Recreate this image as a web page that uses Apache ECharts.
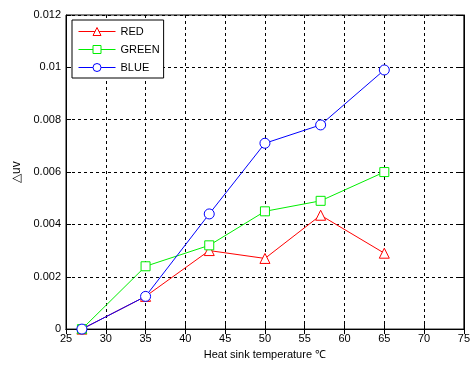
<!DOCTYPE html>
<html>
<head>
<meta charset="utf-8">
<script src="https://cdn.jsdelivr.net/npm/echarts@6/dist/echarts.min.js"></script>
<style>
  html, body { margin: 0; padding: 0; background: #fff; }
  #chart { width: 473px; height: 365px; }
</style>
</head>
<body>
<div id="chart"></div>
<script>
// heat sink temperature (°C)
const temps = [27, 35, 43, 50, 57, 65]
// delta uv per colour
const red = [0, 0.00125, 0.0030, 0.0027, 0.00435, 0.0029]
const green = [0, 0.0024, 0.0032, 0.0045, 0.0049, 0.0060]
const blue = [0, 0.00125, 0.0044, 0.0071, 0.0078, 0.0099]

const font = 'Liberation Sans, Arial, sans-serif'

function pairs (ys) {
  return temps.map((t, i) => [t, ys[i]])
}

function mkSeries (name, color, symbol, ys) {
  return {
    name: name,
    type: 'line',
    data: pairs(ys),
    symbol: symbol,
    symbolSize: symbol === 'rect' ? 9 : 10,
    color: color,
    lineStyle: { color: color, width: 1 },
    itemStyle: { color: '#fff', borderColor: color, borderWidth: 1 },
    emphasis: { disabled: true },
    animation: false
  }
}

const chart = echarts.init(document.getElementById('chart'))

const tickStyle = { inside: true, length: 5, lineStyle: { color: '#000' } }

chart.setOption({
  backgroundColor: '#fff',
  textStyle: { fontFamily: font },
  grid: {
    left: 66, right: 7, top: 15, bottom: 34,
    show: true, borderColor: '#000', borderWidth: 1
  },
  legend: {
    orient: 'vertical',
    left: 72,
    top: 20,
    data: ['RED', 'GREEN', 'BLUE'],
    itemWidth: 37,
    itemHeight: 10,
    itemGap: 7,
    padding: [6, 4, 5, 6],
    borderColor: '#000',
    borderWidth: 1,
    backgroundColor: '#fff',
    itemStyle: { borderWidth: 1 },
    lineStyle: { width: 1 },
    textStyle: { fontSize: 11, color: '#000', fontFamily: font }
  },
  xAxis: [
    {
      type: 'value', min: 25, max: 75, interval: 5,
      name: 'Heat sink temperature \u2103',
      nameLocation: 'middle',
      nameGap: 18,
      nameTextStyle: { fontSize: 11, color: '#000' },
      axisLine: { lineStyle: { color: '#000' } },
      axisTick: tickStyle,
      axisLabel: { fontSize: 11, color: '#000', margin: 4 },
      splitLine: { show: true, lineStyle: { color: '#000', type: [3, 3] } }
    },
    {
      type: 'value', min: 25, max: 75, interval: 5, position: 'top',
      axisLine: { lineStyle: { color: '#000' } },
      axisTick: tickStyle,
      axisLabel: { show: false },
      splitLine: { show: false }
    }
  ],
  yAxis: [
    {
      type: 'value', min: 0, max: 0.012, interval: 0.002,
      name: '\u25B3uv',
      nameLocation: 'middle',
      nameRotate: 90,
      nameGap: 34,
      nameTextStyle: { fontSize: 12, color: '#000' },
      axisLine: { show: true, lineStyle: { color: '#000' } },
      axisTick: { show: true, inside: true, length: 5, lineStyle: { color: '#000' } },
      axisLabel: {
        fontSize: 11, color: '#000', margin: 5,
        formatter: v => String(+v.toFixed(3))
      },
      splitLine: { show: true, lineStyle: { color: '#000', type: [3, 3] } }
    },
    {
      type: 'value', min: 0, max: 0.012, interval: 0.002, position: 'right',
      axisLine: { show: true, lineStyle: { color: '#000' } },
      axisTick: { show: true, inside: true, length: 5, lineStyle: { color: '#000' } },
      axisLabel: { show: false },
      splitLine: { show: false }
    }
  ],
  series: [
    mkSeries('RED', '#ff0000', 'triangle', red),
    mkSeries('GREEN', '#00ee00', 'rect', green),
    mkSeries('BLUE', '#0000ff', 'circle', blue)
  ]
})
</script>
</body>
</html>
